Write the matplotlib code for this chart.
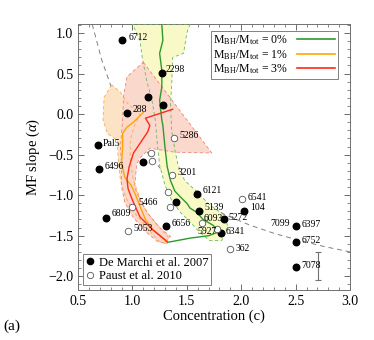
import matplotlib
matplotlib.use('Agg')
import matplotlib.pyplot as plt
from matplotlib.lines import Line2D
from matplotlib.ticker import MultipleLocator

plt.rcParams['font.family'] = ['Liberation Serif', 'DejaVu Serif']
plt.rcParams['mathtext.fontset'] = 'custom'
plt.rcParams['mathtext.rm'] = 'Liberation Serif'
plt.rcParams['mathtext.it'] = 'Liberation Serif:italic'

# De Marchi et al. 2007 (filled)
dm_c = [0.90, 1.27, 1.14, 1.28, 0.95, 0.68, 0.69, 1.10, 1.59, 1.61, 1.40,
        0.76, 1.31, 1.84, 2.03, 1.81, 2.50, 2.50, 2.50]
dm_a = [0.91, 0.51, 0.21, 0.11, 0.01, -0.38, -0.68, -0.59, -0.99, -1.19, -1.09,
        -1.28, -1.38, -1.29, -1.19, -1.47, -1.38, -1.58, -1.88]
dm_lab = ['6712', '2298', '', '', '288', 'Pal5', '6496', '', '6121', '5139', '',
          '6809', '6656', '5272', '104', '6341', '6397', '6752', '7078']

# Paust et al. 2010 (open)
pa_c = [1.38, 1.17, 1.18, 1.36, 1.33, 1.35, 1.00, 0.96, 2.01, 1.90, 1.78, 1.64]
pa_a = [-0.30, -0.48, -0.58, -0.75, -0.96, -1.14, -1.14, -1.44, -1.05, -1.67, -1.42, -1.34]
pa_lab = ['5286', '', '', '3201', '', '', '5466', '5053', '6541', '362', '6093', '5927']

# model tracks (solid)
g_c = [1.27, 1.28, 1.25, 1.27, 1.27, 1.25, 1.27, 1.28, 1.30, 1.32, 1.35, 1.39,
       1.44, 1.50, 1.53, 1.59, 1.65, 1.74, 1.80, 1.70, 1.53, 1.33]
g_a = [1.11, 0.91, 0.75, 0.54, 0.33, 0.17, -0.07, -0.14, -0.42, -0.65, -0.82, -0.95,
       -1.02, -1.10, -1.16, -1.21, -1.30, -1.37, -1.45, -1.50, -1.53, -1.58]
o_c = [1.10, 1.01, 0.95, 0.91, 0.91, 0.90, 0.93, 0.99, 1.03, 1.07, 1.12, 1.19, 1.27, 1.32]
o_a = [0.02, -0.10, -0.16, -0.24, -0.41, -0.60, -0.78, -0.88, -1.00, -1.14, -1.30, -1.43, -1.52, -1.58]
r_c = [1.37, 1.12, 1.16, 1.14, 1.07, 1.01, 0.97, 0.95, 0.96, 1.00, 1.07, 1.19, 1.30, 1.32]
r_a = [0.06, -0.05, -0.14, -0.22, -0.36, -0.48, -0.65, -0.80, -0.92, -1.06, -1.27, -1.43, -1.55, -1.58]

# model spread regions
g_reg_c = [1.53, 1.50, 1.47, 1.37, 1.36, 1.35, 1.36, 1.39, 1.42, 1.48, 1.58, 1.71, 1.85, 1.88, 1.82,
           1.71, 1.62, 1.53, 1.44, 1.36, 1.30, 1.25, 1.23, 1.21, 1.18, 1.13, 1.09, 1.07, 1.00]
g_reg_a = [1.11, 1.00, 0.75, 0.70, 0.33, 0.14, -0.20, -0.44, -0.63, -0.82, -0.94, -1.12, -1.25, -1.41, -1.56,
           -1.56, -1.46, -1.33, -1.21, -1.06, -0.88, -0.63, -0.38, -0.07, 0.17, 0.42, 0.70, 0.91, 1.11]
r_reg_c = [1.10, 1.73, 1.39, 1.16, 1.07, 1.04, 1.02, 1.07, 1.14, 1.25, 1.35, 1.30, 1.24,
           1.13, 1.01, 0.93, 0.90, 0.90, 0.89, 0.91, 0.92, 0.95]
r_reg_a = [0.64, -0.48, -0.47, -0.42, -0.54, -0.61, -0.90, -1.06, -1.22, -1.40, -1.51, -1.59, -1.58,
           -1.46, -1.28, -1.09, -0.90, -0.63, -0.41, -0.07, 0.24, 0.46]
o_reg_c = [0.81, 0.74, 0.73, 0.77, 0.86, 0.87, 0.89, 0.94, 1.02, 1.14, 1.24, 1.32,
           1.33, 1.23, 1.13, 1.07, 1.01, 0.98, 0.98, 1.02, 1.07, 0.95, 0.89]
o_reg_a = [0.36, 0.21, -0.07, -0.24, -0.32, -0.57, -0.82, -1.03, -1.22, -1.41, -1.56, -1.61,
           -1.52, -1.37, -1.21, -1.04, -0.82, -0.57, -0.32, -0.14, -0.01, 0.14, 0.27]

# dashed reference relation
ref_c = [0.63, 0.72, 0.82, 0.95, 1.10, 1.25, 1.45, 1.62, 1.85, 2.08, 2.30, 2.54, 2.75, 3.00]
ref_a = [1.11, 0.66, 0.28, -0.09, -0.41, -0.66, -0.90, -1.07, -1.24, -1.37, -1.47, -1.56, -1.63, -1.70]

# typical error bar
err_c, err_a, err_da = 2.71, -1.875, 0.175

# label offsets in points
dm_off = {'6712': (5, 2), '2298': (3, 2), '288': (4, 3), 'Pal5': (4, 1), '6496': (4, 2),
          '6121': (4, 3), '5139': (4, 2), '6809': (4, 3), '6656': (4, 2), '5272': (3, 1),
          '104': (4, 2), '6341': (4, 1), '6397': (4, 1), '6752': (4, 1), '7078': (4, 1)}
pa_off = {'5286': (4, 2), '3201': (4, 2), '5466': (4, 3), '5053': (4, 2), '6541': (4, 1),
          '362': (4, 1), '6093': (-3, 8), '5927': (4, -6)}

fig = plt.figure(figsize=(3.74, 3.40), dpi=100)
ax = fig.add_axes([0.2086, 0.147, 0.7273, 0.782])

ax.plot(ref_c, ref_a, color='#808080', lw=0.7, ls=(0, (5, 4)), zorder=1)

# fills: yellow, then orange, pink on top
ax.fill(g_reg_c, g_reg_a, facecolor='#f9f9c8', edgecolor='none', zorder=2)
ax.fill(o_reg_c, o_reg_a, facecolor='#fde3c6', edgecolor='none', zorder=2.5)
ax.fill(r_reg_c, r_reg_a, facecolor='#fbd8cc', edgecolor='none', zorder=3)

# dashed region borders above all fills
for rc, ra, col in [(g_reg_c, g_reg_a, '#6fb85e'), (o_reg_c, o_reg_a, '#f3b055'),
                    (r_reg_c, r_reg_a, '#f08478')]:
    ax.plot(rc + rc[:1], ra + ra[:1], color=col, lw=0.6, ls=(0, (4, 3)), zorder=4)

ax.plot(g_c, g_a, color='#2e9a2e', lw=1.0, zorder=5)
ax.plot(o_c, o_a, color='#ffa500', lw=1.0, zorder=5)
ax.plot(r_c, r_a, color='#ff2a1a', lw=1.0, zorder=5)

ax.errorbar(err_c, err_a, yerr=err_da, fmt='none', ecolor='#707070', elinewidth=0.8,
            capsize=2.5, capthick=0.8, zorder=4)

ax.scatter(dm_c, dm_a, s=22, color='black', zorder=6)
ax.scatter(pa_c, pa_a, s=22, facecolor='white', edgecolor='#555555', lw=0.6, zorder=6)

for c, a, lab in zip(dm_c, dm_a, dm_lab):
    if lab:
        ax.annotate(lab, (c, a), xytext=dm_off[lab], textcoords='offset points',
                    fontsize=7, va='center', zorder=7)
ax.annotate('7099', (dm_c[16], dm_a[16]), xytext=(-4, 2), textcoords='offset points',
            fontsize=7, va='center', ha='right', zorder=7)
for c, a, lab in zip(pa_c, pa_a, pa_lab):
    if lab:
        ax.annotate(lab, (c, a), xytext=pa_off[lab], textcoords='offset points',
                    fontsize=7, va='center', ha='center' if lab in ('6093', '5927') else 'left',
                    zorder=7)

ax.set_xlim(0.5, 3.0)
ax.set_ylim(-2.17, 1.11)
ax.xaxis.set_major_locator(MultipleLocator(0.5))
ax.xaxis.set_minor_locator(MultipleLocator(0.1))
ax.yaxis.set_major_locator(MultipleLocator(0.5))
ax.yaxis.set_minor_locator(MultipleLocator(0.1))
ax.tick_params(which='both', direction='in', top=True, right=True, colors='#555555',
               labelcolor='black', labelsize=10)
ax.tick_params(which='major', length=4, width=0.6)
ax.tick_params(which='minor', length=2, width=0.5)
for s in ax.spines.values():
    s.set_color('#707070')
    s.set_linewidth(0.7)

ax.set_xlabel('Concentration (c)', fontsize=10.5, labelpad=1)
ax.set_ylabel(r'MF slope ($\alpha$)', fontsize=10.5, labelpad=4)

h1 = [Line2D([], [], color='#2e9a2e', lw=1.2),
      Line2D([], [], color='#ffa500', lw=1.2),
      Line2D([], [], color='#ff2a1a', lw=1.2)]
l1 = [r'$\mathregular{M_{BH}/M_{tot}}$ = 0%',
      r'$\mathregular{M_{BH}/M_{tot}}$ = 1%',
      r'$\mathregular{M_{BH}/M_{tot}}$ = 3%']
leg1 = ax.legend(h1, l1, loc='upper right', markerfirst=False, fontsize=8.5, frameon=True,
                 fancybox=False, edgecolor='#808080', framealpha=1, borderpad=0.2,
                 labelspacing=0.05, handlelength=3.2, handletextpad=0.8,
                 borderaxespad=0.6, bbox_to_anchor=(0.98, 1.0))
leg1.get_frame().set_linewidth(0.7)
ax.add_artist(leg1)

h2 = [Line2D([], [], ls='none', marker='o', ms=4.5, color='black'),
      Line2D([], [], ls='none', marker='o', ms=4.5, mfc='white', mec='#555555', mew=0.6)]
leg2 = ax.legend(h2, ['De Marchi et al. 2007', 'Paust et al. 2010'], loc='lower left',
                 fontsize=9, frameon=True, fancybox=False, edgecolor='#808080',
                 framealpha=1, borderpad=0.25, labelspacing=0.1, handlelength=0.6,
                 handletextpad=0.4, borderaxespad=0.4)
leg2.get_frame().set_linewidth(0.7)

fig.text(0.01, 0.03, '(a)', fontsize=11)

fig.savefig('out.png', dpi=100)
